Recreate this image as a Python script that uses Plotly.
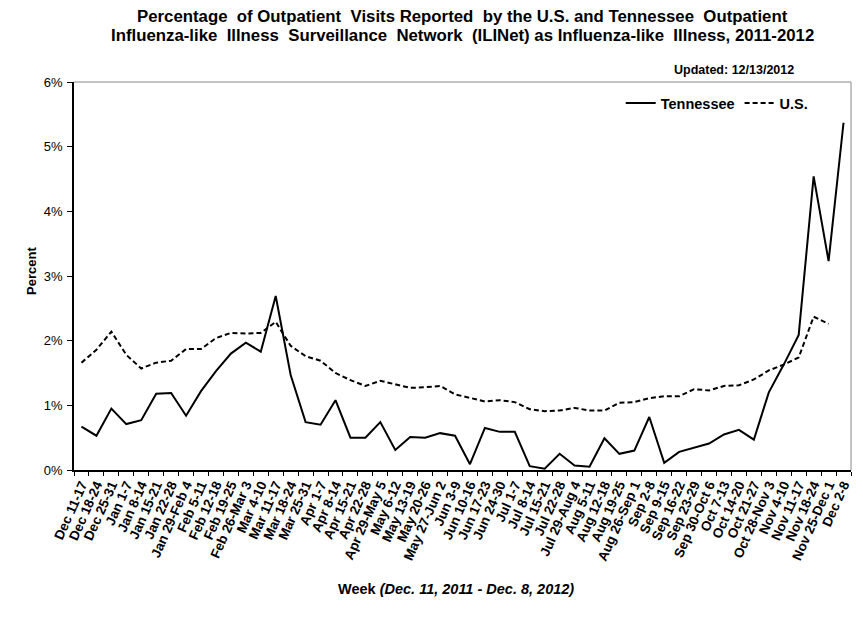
import plotly.graph_objects as go

weeks = ["Dec 11-17", "Dec 18-24", "Dec 25-31", "Jan 1-7", "Jan 8-14", "Jan 15-21", "Jan 22-28",
         "Jan 29-Feb 4", "Feb 5-11", "Feb 12-18", "Feb 19-25", "Feb 26-Mar 3", "Mar 4-10",
         "Mar 11-17", "Mar 18-24", "Mar 25-31", "Apr 1-7", "Apr 8-14", "Apr 15-21", "Apr 22-28",
         "Apr 29-May 5", "May 6-12", "May 13-19", "May 20-26", "May 27-Jun 2", "Jun 3-9",
         "Jun 10-16", "Jun 17-23", "Jun 24-30", "Jul 1-7", "Jul 8-14", "Jul 15-21", "Jul 22-28",
         "Jul 29-Aug 4", "Aug 5-11", "Aug 12-18", "Aug 19-25", "Aug 26-Sep 1", "Sep 2-8",
         "Sep 9-15", "Sep 16-22", "Sep 23-29", "Sep 30-Oct 6", "Oct 7-13", "Oct 14-20",
         "Oct 21-27", "Oct 28-Nov 3", "Nov 4-10", "Nov 11-17", "Nov 18-24", "Nov 25-Dec 1",
         "Dec 2-8"]

tennessee = [0.67, 0.53, 0.95, 0.71, 0.77, 1.18, 1.19, 0.84, 1.22, 1.53, 1.80, 1.97, 1.83,
             2.69, 1.47, 0.74, 0.70, 1.08, 0.50, 0.50, 0.74, 0.31, 0.51, 0.50, 0.57, 0.53,
             0.09, 0.65, 0.59, 0.59, 0.06, 0.02, 0.25, 0.07, 0.05, 0.49, 0.25, 0.30, 0.82,
             0.11, 0.28, 0.35, 0.41, 0.55, 0.62, 0.47, 1.20, 1.63, 2.09, 4.54, 3.23, 5.37]

us = [1.66, 1.86, 2.14, 1.78, 1.57, 1.66, 1.69, 1.87, 1.87, 2.04, 2.12, 2.11, 2.12,
      2.29, 1.92, 1.76, 1.69, 1.50, 1.39, 1.30, 1.38, 1.33, 1.27, 1.28, 1.30, 1.17,
      1.11, 1.06, 1.08, 1.05, 0.94, 0.91, 0.92, 0.96, 0.92, 0.92, 1.04, 1.05, 1.11,
      1.14, 1.14, 1.25, 1.23, 1.30, 1.31, 1.40, 1.54, 1.63, 1.74, 2.37, 2.26, None]

y_ticks = [0, 1, 2, 3, 4, 5, 6]
y_tick_labels = ["0%", "1%", "2%", "3%", "4%", "5%", "6%"]

FONT = "Liberation Sans, Arial, sans-serif"

fig = go.Figure()
fig.add_trace(go.Scatter(x=weeks, y=tennessee, mode="lines", name="Tennessee",
                         line=dict(color="black", width=2)))
fig.add_trace(go.Scatter(x=weeks, y=us, mode="lines", name="U.S.",
                         line=dict(color="black", width=2, dash="5px,3px")))

fig.update_layout(
    width=863, height=644,
    margin=dict(l=66, r=20, t=74, b=182, autoexpand=False),
    paper_bgcolor="white", plot_bgcolor="white",
    font=dict(family=FONT, color="black"),
    showlegend=True,
    legend=dict(orientation="h", x=0.952, xanchor="right", y=0.946, yanchor="middle",
                font=dict(family=FONT, size=14.5, color="black", weight="bold"),
                bgcolor="rgba(0,0,0,0)", itemwidth=30, tracegroupgap=0),
    xaxis=dict(type="category", tickmode="linear", tick0=0, dtick=1, tickangle=-66,
               tickson="boundaries", ticks="outside",
               ticklen=4, tickcolor="black", showgrid=False, showline=True,
               linecolor="black", linewidth=1.5, mirror=False, automargin=False,
               tickfont=dict(family=FONT, size=13.5, color="black", weight="bold"),
               range=[-0.5, len(weeks) - 0.5]),
    yaxis=dict(range=[0, 6], tickvals=y_ticks, ticktext=y_tick_labels, ticks="outside",
               ticklen=5, tickcolor="black", showgrid=False, showline=True,
               linecolor="black", linewidth=1.5, zeroline=False, automargin=False,
               ticklabelstandoff=2,
               tickfont=dict(family=FONT, size=13, color="black")),
    shapes=[
        dict(type="line", xref="paper", yref="paper", x0=0, x1=1, y0=1, y1=1,
             line=dict(color="#888888", width=1)),
        dict(type="line", xref="paper", yref="paper", x0=1, x1=1, y0=0, y1=1,
             line=dict(color="#888888", width=1)),
    ],
    annotations=[
        dict(text="<b>Percentage  of Outpatient  Visits Reported  by the U.S. and Tennessee  Outpatient</b>",
             xref="paper", yref="paper", x=0.5, y=1, xanchor="center", yanchor="middle",
             yshift=66, showarrow=False, font=dict(family=FONT, size=16.8, color="black")),
        dict(text="<b>Influenza-like  Illness  Surveillance  Network  (ILINet) as Influenza-like  Illness, 2011-2012</b>",
             xref="paper", yref="paper", x=0.5, y=1, xanchor="center", yanchor="middle",
             yshift=47, showarrow=False, font=dict(family=FONT, size=16.8, color="black")),
        dict(text="<b>Updated: 12/13/2012</b>", xref="paper", yref="paper", x=0.929, y=1,
             xanchor="right", yanchor="middle", yshift=12, showarrow=False,
             font=dict(family=FONT, size=12.5, color="black")),
        dict(text="<b>Percent</b>", xref="paper", yref="paper", x=0, y=0.513,
             xanchor="center", yanchor="middle", xshift=-42, textangle=-90, showarrow=False,
             font=dict(family=FONT, size=13, color="black")),
        dict(text="<b>Week <i>(Dec. 11, 2011 - Dec. 8, 2012)</i></b>", xref="paper", yref="paper",
             x=0.4916, y=0, xanchor="center", yanchor="middle", yshift=-119, showarrow=False,
             font=dict(family=FONT, size=14.5, color="black")),
    ],
)

fig.write_html("out.html")
